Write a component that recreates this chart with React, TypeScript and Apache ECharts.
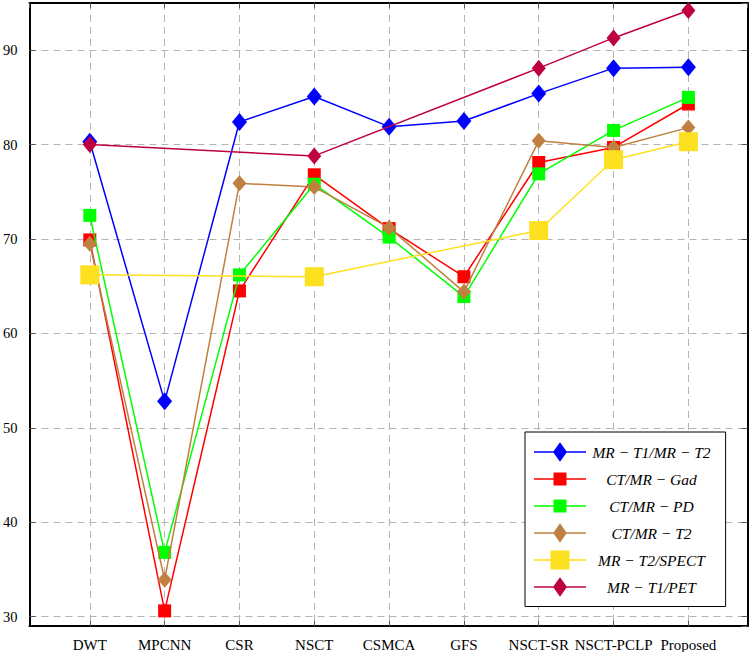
import React, { useEffect, useRef } from "react";
import * as echarts from "echarts";

const categories = ["DWT", "MPCNN", "CSR", "NSCT", "CSMCA", "GFS", "NSCT-SR", "NSCT-PCLP", "Proposed"];

const mrT1MrT2 = [80.3, 52.8, 82.4, 85.1, 81.9, 82.5, 85.4, 88.1, 88.2];
const ctMrGad = [69.9, 30.6, 64.5, 76.8, 71.1, 66.0, 78.1, 79.7, 84.3];
const ctMrPd = [72.5, 36.8, 66.2, 75.8, 70.2, 63.9, 76.9, 81.5, 85.0];
const ctMrT2 = [69.5, 33.9, 75.9, 75.5, 71.2, 64.4, 80.4, 79.7, 81.8];
const mrT2Spect = [66.2, null, null, 66.0, null, null, 70.9, 78.4, 80.3];
const mrT1Pet = [80.0, null, null, 78.8, null, null, 88.1, 91.3, 94.2];

const seriesNames = [
  "MR − T1/MR − T2",
  "CT/MR − Gad",
  "CT/MR − PD",
  "CT/MR − T2",
  "MR − T2/SPECT",
  "MR − T1/PET",
];

const yTicks = [30, 40, 50, 60, 70, 80, 90];

// legend icon: line with a centred marker, in a 52 x 21 box
function legendIconPath(shape: string, w: number, h: number): string {
  const W = 52;
  const H = 21;
  const cx = W / 2;
  const cy = H / 2;
  const lt = 0.75;
  let p = `M0 0 M${W} ${H} `;
  p += `M0 ${cy - lt} L${W} ${cy - lt} L${W} ${cy + lt} L0 ${cy + lt} Z `;
  if (shape === "diamond") {
    p += `M${cx} ${cy - h / 2} L${cx + w / 2} ${cy} L${cx} ${cy + h / 2} L${cx - w / 2} ${cy} Z`;
  } else {
    p += `M${cx - w / 2} ${cy - h / 2} L${cx + w / 2} ${cy - h / 2} L${cx + w / 2} ${cy + h / 2} L${cx - w / 2} ${cy + h / 2} Z`;
  }
  return "path://" + p;
}

export default function App() {
  const ref = useRef<HTMLDivElement>(null);
  useEffect(() => {
    if (!ref.current) return;
    const chart = echarts.init(ref.current, undefined, { renderer: "svg" });
    const toPairs = (arr: (number | null)[]) => arr.map((v, i) => [i, v]);
    const defs = [
      { data: mrT1MrT2, color: "#0000ff", symbol: "diamond", size: [15, 18], leg: [14, 19.5] },
      { data: ctMrGad, color: "#ff0000", symbol: "rect", size: [13, 13], leg: [13, 13] },
      { data: ctMrPd, color: "#00ff00", symbol: "rect", size: [13, 13], leg: [13, 13] },
      { data: ctMrT2, color: "#bf8040", symbol: "diamond", size: [14, 16], leg: [13.5, 19.5] },
      { data: mrT2Spect, color: "#fde020", symbol: "rect", size: [19, 19], leg: [19, 19] },
      { data: mrT1Pet, color: "#bf0040", symbol: "diamond", size: [14, 17], leg: [14, 19.5] },
    ];
    const font = "'Liberation Serif', 'DejaVu Serif', serif";
    const grid = { left: 27, right: 2.5, top: 3, bottom: 26 };
    const xMin = -0.806;
    const xMax = 8.79;
    const yMin = 29;
    const yMax = 95;
    const commonX = {
      type: "value" as const,
      min: xMin,
      max: xMax,
      minInterval: 1,
      maxInterval: 1,
      splitNumber: 10,
    };
    const commonY = {
      type: "value" as const,
      min: yMin,
      max: yMax,
      splitNumber: 6,
      minInterval: 10,
      maxInterval: 10,
    };
    const option: any = {
      animation: false,
      backgroundColor: "#ffffff",
      grid,
      legend: {
        orient: "vertical",
        left: 525,
        top: 432,
        padding: [9.5, 15, 9, 9],
        itemGap: 6,
        itemWidth: 52,
        itemHeight: 21,
        itemTextGap: 5,
        borderColor: "#000",
        borderWidth: 1,
        backgroundColor: "#fff",
        data: seriesNames.map((n, i) => ({
          name: n,
          icon: legendIconPath(defs[i].symbol, defs[i].leg[0], defs[i].leg[1]),
          itemStyle: { color: defs[i].color, borderWidth: 0 },
        })),
        formatter: (name: string) => `{a|${name}}`,
        textStyle: {
          fontFamily: font,
          fontStyle: "italic",
          fontSize: 15.5,
          color: "#000",
          rich: {
            a: {
              width: 121,
              align: "center",
              fontFamily: font,
              fontStyle: "italic",
              fontSize: 15.5,
              color: "#000",
            },
          },
        },
      },
      xAxis: [
        {
          ...commonX,
          position: "bottom",
          axisLine: { show: true, onZero: false, lineStyle: { color: "#000", width: 2 } },
          axisTick: { show: true, inside: true, length: 5, lineStyle: { color: "#555", width: 1 } },
          axisLabel: {
            showMinLabel: false,
            showMaxLabel: false,
            margin: 11,
            fontFamily: font,
            fontSize: 15,
            color: "#000",
            formatter: (v: number) => {
              const i = Math.round(v);
              return Math.abs(v - i) < 1e-6 && categories[i] ? categories[i] : "";
            },
          },
          splitLine: { show: true, lineStyle: { color: "#b4b4b4", width: 1, type: [7, 5] } },
        },
        {
          ...commonX,
          position: "top",
          axisLine: { show: true, onZero: false, lineStyle: { color: "#000", width: 2 } },
          axisTick: { show: true, inside: true, length: 5, lineStyle: { color: "#555", width: 1 } },
          axisLabel: { show: false },
          splitLine: { show: false },
        },
      ],
      yAxis: [
        {
          ...commonY,
          position: "left",
          axisLine: { show: true, onZero: false, lineStyle: { color: "#000", width: 2 } },
          axisTick: { show: true, inside: true, length: 6, lineStyle: { color: "#555", width: 1 } },
          axisLabel: {
            showMinLabel: false,
            showMaxLabel: false,
            margin: 12,
            fontFamily: font,
            fontSize: 14.5,
            color: "#000",
            formatter: (v: number) => (yTicks.includes(v) ? String(v) : ""),
          },
          splitLine: { show: true, lineStyle: { color: "#b4b4b4", width: 1, type: [7, 5] } },
        },
        {
          ...commonY,
          position: "right",
          axisLine: { show: true, onZero: false, lineStyle: { color: "#000", width: 2 } },
          axisTick: { show: true, inside: true, length: 6, lineStyle: { color: "#555", width: 1 } },
          axisLabel: { show: false },
          splitLine: { show: false },
        },
      ],
      series: defs.map((d, i) => ({
        name: seriesNames[i],
        type: "line",
        xAxisIndex: 0,
        yAxisIndex: 0,
        data: toPairs(d.data),
        connectNulls: true,
        symbol: d.symbol,
        symbolSize: d.size,
        showAllSymbol: true,
        color: d.color,
        itemStyle: { color: d.color, borderWidth: 0 },
        lineStyle: { color: d.color, width: 1.5 },
        z: 2 + i,
      })),
    };
    chart.setOption(option);
    return () => chart.dispose();
  }, []);
  return (
    <div
      ref={ref}
      style={{ position: "fixed", left: 0, top: 0, width: 750, height: 652 }}
    />
  );
}
